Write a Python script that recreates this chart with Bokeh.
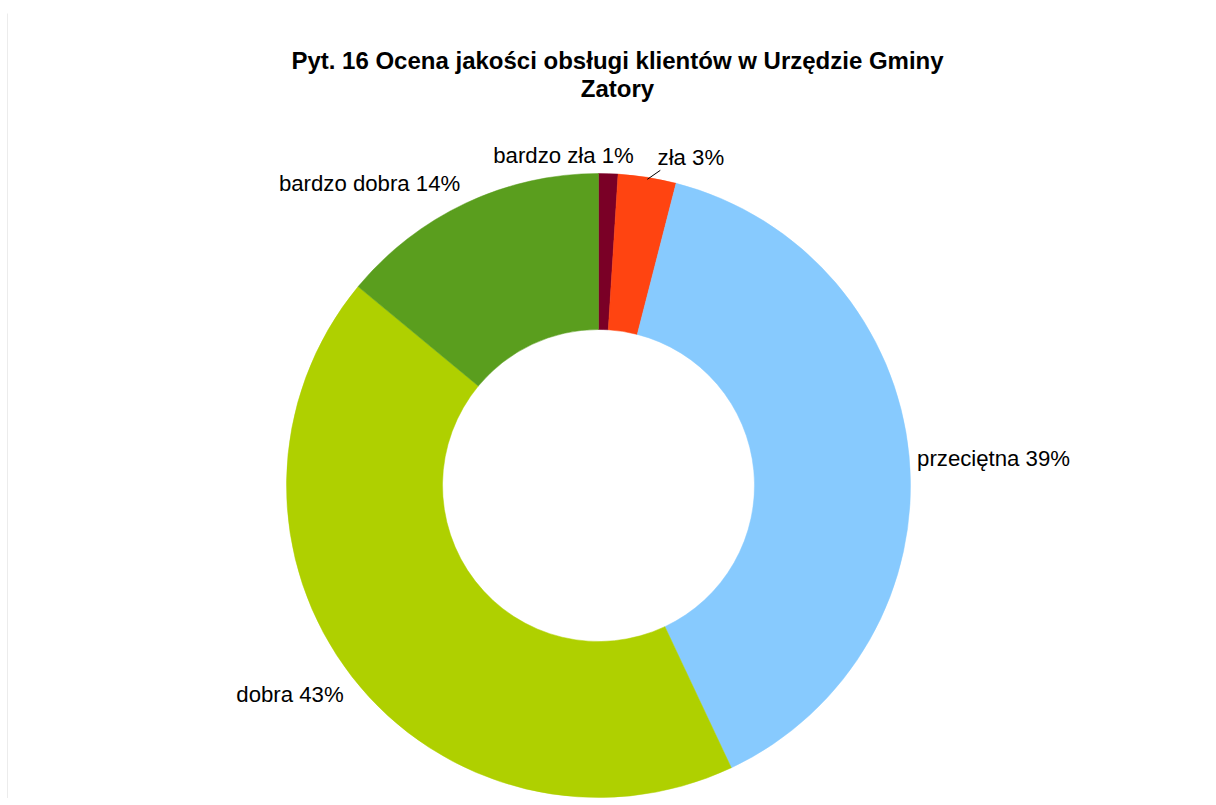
import math
from bokeh.plotting import figure
from bokeh.models import Range1d, ColumnDataSource
from bokeh.core.properties import value
from bokeh.embed import file_html
from bokeh.resources import INLINE

# Data
categories = ["bardzo zła", "zła", "przeciętna", "dobra", "bardzo dobra"]
percents = [1, 3, 39, 43, 14]
colors = ["#7A0026", "#FF4411", "#87CAFE", "#AFD000", "#5A9E1E"]
title_lines = ["Pyt. 16 Ocena jakości obsługi klientów w Urzędzie Gminy", "Zatory"]

W, H = 1208, 798
CX, CY = 598, 485  # donut centre in figure pixels (from top-left)
R_OUT, R_IN = 312, 156

p = figure(width=W, height=H, output_backend="svg", toolbar_location=None,
           x_range=Range1d(-CX, W - CX), y_range=Range1d(-(H - CY), CY),
           min_border=0)
p.axis.visible = False
p.grid.visible = False
p.outline_line_color = None
p.background_fill_color = "white"
p.border_fill_color = "white"

# faint chart-area edge on the left
p.segment(x0=[7 - CX], y0=[CY - 13], x1=[7 - CX], y1=[-(H - CY)],
          line_color="#ececec", line_width=1)

total = sum(percents)
starts, ends, mids = [], [], []
cum = 0.0
for v in percents:
    a0 = math.pi / 2 - 2 * math.pi * cum / total
    cum += v
    a1 = math.pi / 2 - 2 * math.pi * cum / total
    starts.append(a0)
    ends.append(a1)
    mids.append((a0 + a1) / 2)

src = ColumnDataSource(dict(start=starts, end=ends, color=colors, cat=categories, pct=percents))
p.annular_wedge(x=0, y=0, inner_radius=R_IN, outer_radius=R_OUT,
                start_angle="start", end_angle="end", direction="clock",
                fill_color="color", line_color="color", line_width=0.5, source=src)

# Labels
label_r = R_OUT + 8
# per-label placement tweaks (align, baseline, x_offset px, y_offset px)
placement = {
    "bardzo zła": ("center", "middle", -45, -10),
    "zła": ("left", "middle", 9, -12),
    "przeciętna": ("left", "middle", 0, 3),
    "dobra": ("right", "top", -2, 0),
    "bardzo dobra": ("right", "bottom", -2, 0),
}
for cat, pct, m in zip(categories, percents, mids):
    ax = label_r * math.cos(m)
    ay = label_r * math.sin(m)
    align, base, dx, dy = placement[cat]
    p.text(x=[ax], y=[ay], text=[f"{cat} {pct}%"], text_align=align, text_baseline=base,
           x_offset=dx, y_offset=dy, text_font=value("Liberation Sans"),
           text_font_size="22.2px", text_color="#000000")

# leader line for "zła"
m = mids[1]
ox, oy = R_OUT * math.cos(m), R_OUT * math.sin(m)
p.segment(x0=[ox], y0=[oy - 2], x1=[ox + 13], y1=[oy + 7],
          line_color="black", line_width=1)

# Title
title_y = [CY - 60, CY - 88]
for line, ty in zip(title_lines, title_y):
    p.text(x=[19], y=[ty], text=[line], text_align="center", text_baseline="middle",
           text_font=value("Liberation Sans"), text_font_style="bold",
           text_font_size="24px", text_color="#000000")

open("out.html", "w").write(file_html(p, INLINE))
